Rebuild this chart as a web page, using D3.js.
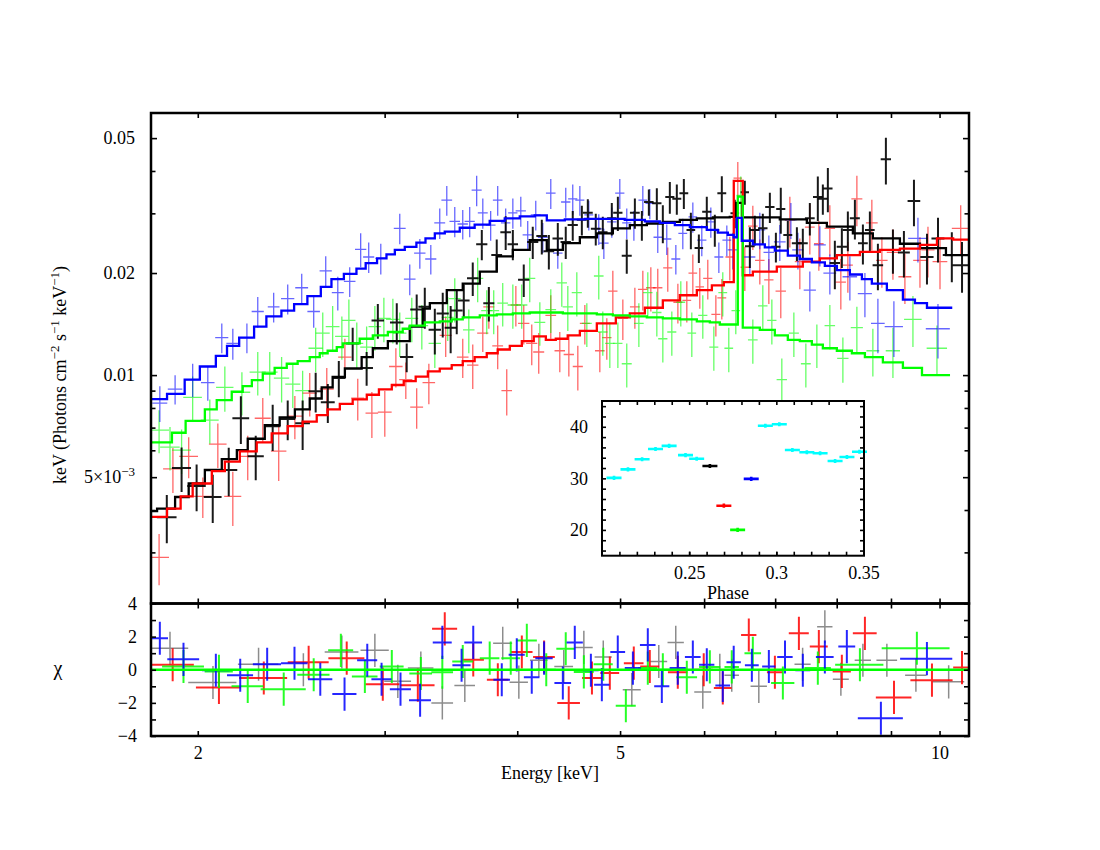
<!DOCTYPE html>
<html><head><meta charset="utf-8">
<script src="https://cdn.jsdelivr.net/npm/d3@7"></script>
<style>body{margin:0;background:#fff}</style>
</head><body><svg id="c" width="1100" height="850"></svg>
<script>
// ---------- tick values ----------
const xMajor = [2, 5, 10];
const xMinor = [3, 4, 6, 7, 8, 9];
const yMajor = [0.005, 0.01, 0.02, 0.05];
const yMinor = [0.003, 0.004, 0.006, 0.007, 0.008, 0.009, 0.03, 0.04];
const resTicks = [-4, -3, -2, -1, 0, 1, 2, 3, 4];
const resLabels = [-4, -2, 0, 2, 4];
const phaseTicks = [0.21,0.22,0.23,0.24,0.25,0.26,0.27,0.28,0.29,0.30,0.31,0.32,0.33,0.34,0.35];
const phaseLabels = [0.25, 0.3, 0.35];
const rateTicks = [16,18,20,22,24,26,28,30,32,34,36,38,40,42,44];
const rateLabels = [20, 30, 40];

// ---------- spectra: [E keV, flux, dE, dFlux] ----------
const blackData = [
[1.870,0.00381,0.040,0.00062],[1.931,0.00532,0.040,0.00080],[1.995,0.00471,0.040,0.00074],[2.066,0.00437,0.040,0.00071],
[2.139,0.00525,0.040,0.00086],[2.196,0.00746,0.040,0.00120],[2.268,0.00576,0.040,0.00086],[2.353,0.00707,0.040,0.00110],
[2.431,0.00742,0.040,0.00100],[2.511,0.00721,0.040,0.00120],[2.583,0.00896,0.040,0.00120],[2.652,0.00832,0.040,0.00110],
[2.716,0.00980,0.040,0.00120],[2.799,0.01240,0.040,0.00140],[2.885,0.01050,0.040,0.00120],[2.956,0.01450,0.040,0.00170],
[3.080,0.01430,0.045,0.00200],[3.147,0.01130,0.045,0.00110],[3.216,0.01560,0.045,0.00170],[3.273,0.01590,0.045,0.00220],
[3.345,0.01360,0.045,0.00210],[3.403,0.01520,0.045,0.00230],[3.462,0.01380,0.045,0.00220],[3.508,0.01550,0.045,0.00230],
[3.562,0.01660,0.045,0.00190],[3.632,0.01930,0.045,0.00220],[3.704,0.02430,0.045,0.00250],[3.761,0.01630,0.045,0.00190],
[3.826,0.02260,0.045,0.00250],[3.901,0.02640,0.045,0.00300],[3.962,0.02430,0.045,0.00250],[4.057,0.01910,0.050,0.00210],
[4.137,0.02470,0.050,0.00270],[4.219,0.02570,0.050,0.00300],[4.284,0.02320,0.050,0.00270],[4.368,0.02530,0.050,0.00280],
[4.444,0.02470,0.050,0.00270],[4.512,0.02770,0.050,0.00280],[4.602,0.02870,0.050,0.00290],[4.662,0.03010,0.050,0.00290],
[4.743,0.02700,0.050,0.00290],[4.816,0.02640,0.050,0.00290],[4.911,0.02900,0.050,0.00320],[4.976,0.03010,0.050,0.00350],
[5.073,0.02250,0.055,0.00260],[5.163,0.03010,0.055,0.00310],[5.242,0.02770,0.055,0.00280],[5.322,0.03240,0.055,0.00290],
[5.415,0.03210,0.055,0.00350],[5.486,0.02810,0.055,0.00360],[5.570,0.03350,0.055,0.00360],[5.655,0.03310,0.055,0.00340],
[5.742,0.03440,0.055,0.00350],[5.830,0.02680,0.055,0.00330],[5.932,0.02370,0.055,0.00230],[6.035,0.03030,0.060,0.00330],
[6.141,0.02680,0.060,0.00290],[6.235,0.03440,0.060,0.00420],[6.413,0.03000,0.060,0.00290],[6.554,0.03460,0.060,0.00280],
[6.626,0.02400,0.070,0.00330],[6.698,0.02680,0.070,0.00270],[6.815,0.02710,0.070,0.00280],[6.920,0.03130,0.070,0.00320],
[7.011,0.02390,0.070,0.00240],[7.086,0.03090,0.070,0.00480],[7.195,0.02590,0.070,0.00260],[7.338,0.02450,0.080,0.00280],
[7.433,0.02450,0.080,0.00250],[7.547,0.02900,0.080,0.00320],[7.679,0.03350,0.080,0.00500],[7.763,0.03310,0.080,0.00340],
[7.848,0.03550,0.080,0.00530],[7.968,0.02140,0.090,0.00350],[8.090,0.02390,0.090,0.00320],[8.196,0.02680,0.090,0.00360],
[8.322,0.02900,0.090,0.00390],[8.468,0.02450,0.090,0.00330],[8.597,0.02680,0.090,0.00360],[8.748,0.02110,0.100,0.00330],
[8.901,0.04330,0.100,0.00680],[9.038,0.02340,0.120,0.00350],[9.256,0.02300,0.120,0.00360],[9.460,0.03260,0.130,0.00510],
[9.731,0.02230,0.140,0.00380],[9.966,0.02530,0.140,0.00380],[10.27,0.02260,0.200,0.00380],[10.50,0.02110,0.220,0.00360]
];
const redData = [
[1.839,0.00290,0.040,0.00050],[1.895,0.00529,0.040,0.00080],[1.961,0.00576,0.040,0.00080],[2.022,0.00439,0.040,0.00060],
[2.089,0.00626,0.040,0.00094],[2.158,0.00439,0.040,0.00080],[2.229,0.00576,0.040,0.00086],[2.303,0.00746,0.040,0.00110],
[2.384,0.00597,0.040,0.00110],[2.469,0.00757,0.040,0.00110],[2.550,0.00885,0.040,0.00130],[2.646,0.00910,0.040,0.00140],
[2.752,0.01130,0.040,0.00150],[2.830,0.00855,0.040,0.00120],[2.918,0.00772,0.040,0.00120],[3.001,0.00778,0.045,0.00120],
[3.074,0.01060,0.045,0.00140],[3.141,0.00970,0.045,0.00120],[3.216,0.00805,0.045,0.00110],[3.302,0.00950,0.045,0.00130],
[3.425,0.01310,0.045,0.00180],[3.554,0.01130,0.045,0.00150],[3.632,0.01070,0.045,0.00160],[3.712,0.01330,0.045,0.00160],
[3.761,0.01590,0.045,0.00220],[3.834,0.01220,0.045,0.00180],[3.910,0.00900,0.045,0.00140],[3.988,0.01610,0.045,0.00220],
[4.057,0.01420,0.050,0.00190],[4.128,0.01240,0.050,0.00170],[4.191,0.01170,0.050,0.00160],[4.302,0.01500,0.050,0.00220],
[4.387,0.01180,0.050,0.00160],[4.474,0.01150,0.050,0.00160],[4.562,0.01060,0.050,0.00160],[4.632,0.01420,0.050,0.00190],
[4.785,0.01180,0.050,0.00160],[4.858,0.01290,0.050,0.00180],[4.922,0.01770,0.050,0.00260],[5.030,0.01470,0.055,0.00200],
[5.163,0.01590,0.055,0.00220],[5.253,0.01790,0.055,0.00240],[5.345,0.01810,0.055,0.00270],[5.426,0.01810,0.055,0.00250],
[5.545,0.02070,0.055,0.00310],[5.668,0.01640,0.055,0.00220],[5.779,0.01660,0.055,0.00230],[5.855,0.02000,0.055,0.00270],
[5.944,0.01820,0.055,0.00250],[6.048,0.01930,0.060,0.00260],[6.155,0.01510,0.060,0.00210],[6.235,0.01690,0.060,0.00230],
[6.344,0.02230,0.060,0.00330],[6.455,0.03810,0.060,0.00440],[6.554,0.02080,0.060,0.00310],[6.669,0.02750,0.070,0.00410],
[6.771,0.02180,0.070,0.00330],[6.905,0.01910,0.070,0.00290],[7.086,0.01770,0.080,0.00300],[7.227,0.02870,0.080,0.00490],
[7.385,0.02160,0.080,0.00370],[7.547,0.02730,0.080,0.00460],[7.696,0.02440,0.080,0.00410],[7.882,0.02710,0.090,0.00460],
[8.072,0.01880,0.090,0.00320],[8.196,0.02110,0.090,0.00360],[8.358,0.03310,0.100,0.00560],[8.634,0.02810,0.110,0.00480],
[8.824,0.02180,0.110,0.00370],[9.038,0.02300,0.120,0.00390],[9.276,0.01950,0.130,0.00330],[9.584,0.02180,0.140,0.00370],
[9.752,0.02340,0.140,0.00400],[10.01,0.02160,0.160,0.00370],[10.47,0.02710,0.200,0.00460]
];
const greenData = [
[1.839,0.00688,0.040,0.00100],[1.883,0.00613,0.040,0.00090],[1.931,0.00601,0.040,0.00090],[1.978,0.00860,0.040,0.00130],
[2.053,0.00737,0.040,0.00110],[2.121,0.00920,0.040,0.00140],[2.201,0.00890,0.040,0.00130],[2.278,0.01020,0.040,0.00150],
[2.338,0.01020,0.040,0.00150],[2.399,0.00980,0.040,0.00150],[2.458,0.00940,0.040,0.00140],[2.511,0.00900,0.040,0.00130],
[2.583,0.01200,0.040,0.00180],[2.623,0.01330,0.040,0.00200],[2.680,0.01390,0.040,0.00210],[2.734,0.01300,0.040,0.00190],
[2.776,0.01450,0.040,0.00220],[2.824,0.01240,0.040,0.00190],[2.885,0.01210,0.040,0.00180],[2.937,0.01390,0.040,0.00210],
[2.995,0.01470,0.045,0.00220],[3.054,0.01460,0.045,0.00220],[3.100,0.01330,0.045,0.00200],[3.182,0.01470,0.045,0.00220],
[3.252,0.01400,0.045,0.00210],[3.345,0.01240,0.045,0.00190],[3.440,0.01480,0.045,0.00220],[3.493,0.01680,0.045,0.00250],
[3.601,0.01360,0.045,0.00200],[3.671,0.01930,0.045,0.00290],[3.744,0.01550,0.045,0.00230],[3.801,0.01550,0.045,0.00230],
[3.876,0.01630,0.045,0.00240],[3.962,0.01610,0.045,0.00240],[4.039,0.01610,0.050,0.00240],[4.110,0.01930,0.050,0.00290],
[4.201,0.01430,0.050,0.00210],[4.302,0.01560,0.050,0.00230],[4.406,0.01870,0.050,0.00280],[4.464,0.01590,0.050,0.00240],
[4.552,0.01750,0.050,0.00260],[4.652,0.01420,0.050,0.00210],[4.774,0.01960,0.050,0.00290],[4.816,0.01340,0.050,0.00200],
[4.890,0.01240,0.050,0.00190],[4.976,0.01240,0.050,0.00190],[5.073,0.01080,0.055,0.00160],[5.208,0.01420,0.055,0.00210],
[5.310,0.01750,0.055,0.00260],[5.415,0.01530,0.055,0.00230],[5.486,0.01280,0.055,0.00190],[5.594,0.01340,0.055,0.00200],
[5.704,0.01640,0.055,0.00250],[5.842,0.01330,0.055,0.00200],[5.983,0.01500,0.060,0.00220],[6.128,0.01210,0.060,0.00180],
[6.248,0.01750,0.060,0.00260],[6.330,0.01200,0.060,0.00180],[6.427,0.01550,0.060,0.00230],[6.497,0.03390,0.060,0.00460],
[6.669,0.01270,0.070,0.00190],[6.815,0.01600,0.070,0.00240],[6.950,0.01450,0.070,0.00220],[7.102,0.00970,0.080,0.00150],
[7.290,0.01330,0.080,0.00200],[7.482,0.01080,0.080,0.00160],[7.663,0.01230,0.090,0.00180],[7.882,0.01400,0.090,0.00210],
[8.108,0.01120,0.100,0.00170],[8.358,0.01380,0.110,0.00210],[8.653,0.01180,0.120,0.00190],[9.038,0.01180,0.140,0.00200],
[9.439,0.01460,0.180,0.00250],[9.944,0.01200,0.220,0.00200]
];
const blueData = [
[1.842,0.00827,0.030,0.00100],[1.904,0.00909,0.030,0.00090],[1.978,0.00970,0.030,0.00110],[2.044,0.00950,0.030,0.00110],
[2.107,0.01290,0.030,0.00130],[2.158,0.01240,0.030,0.00130],[2.225,0.01290,0.030,0.00130],[2.278,0.01540,0.030,0.00160],
[2.358,0.01590,0.030,0.00160],[2.431,0.01680,0.035,0.00170],[2.506,0.01810,0.035,0.00180],[2.572,0.01540,0.035,0.00160],
[2.640,0.02030,0.035,0.00210],[2.710,0.01750,0.035,0.00200],[2.781,0.01890,0.035,0.00190],[2.848,0.02350,0.035,0.00270],
[2.898,0.02230,0.035,0.00230],[2.975,0.02210,0.035,0.00230],[3.100,0.02710,0.040,0.00280],[3.168,0.01920,0.040,0.00200],
[3.238,0.02290,0.040,0.00230],[3.316,0.02200,0.040,0.00220],[3.381,0.02810,0.040,0.00290],[3.433,0.03280,0.040,0.00330],
[3.493,0.02840,0.040,0.00290],[3.554,0.02790,0.040,0.00280],[3.608,0.02840,0.040,0.00290],[3.663,0.03510,0.040,0.00360],
[3.712,0.03010,0.040,0.00310],[3.776,0.02770,0.040,0.00280],[3.834,0.03280,0.040,0.00330],[3.901,0.02810,0.040,0.00290],
[3.962,0.03010,0.040,0.00310],[4.031,0.03050,0.045,0.00310],[4.092,0.02590,0.045,0.00260],[4.164,0.02970,0.045,0.00300],
[4.228,0.02550,0.045,0.00260],[4.302,0.03440,0.045,0.00350],[4.368,0.02290,0.045,0.00230],[4.444,0.03240,0.045,0.00330],
[4.512,0.03310,0.045,0.00340],[4.582,0.03280,0.045,0.00330],[4.672,0.02970,0.045,0.00300],[4.774,0.02700,0.050,0.00280],
[4.827,0.02450,0.050,0.00250],[4.911,0.02830,0.050,0.00290],[4.997,0.03440,0.050,0.00350],[5.073,0.02810,0.050,0.00290],
[5.152,0.02770,0.050,0.00280],[5.253,0.03280,0.050,0.00330],[5.333,0.03210,0.050,0.00330],[5.426,0.02550,0.050,0.00260],
[5.533,0.02520,0.055,0.00260],[5.643,0.02200,0.055,0.00220],[5.729,0.02620,0.055,0.00270],[5.855,0.02930,0.055,0.00300],
[5.970,0.02500,0.060,0.00260],[6.088,0.02830,0.060,0.00290],[6.195,0.02230,0.060,0.00230],[6.303,0.02500,0.060,0.00260],
[6.385,0.02340,0.070,0.00290],[6.626,0.02230,0.080,0.00270],[6.771,0.02680,0.080,0.00330],[6.905,0.02300,0.080,0.00280],
[7.071,0.02470,0.090,0.00300],[7.243,0.02870,0.090,0.00350],[7.354,0.02340,0.090,0.00290],[7.547,0.01780,0.100,0.00240],
[7.713,0.02420,0.100,0.00330],[7.882,0.02000,0.110,0.00270],[8.232,0.01950,0.130,0.00290],[8.505,0.01740,0.130,0.00260],
[8.748,0.01420,0.130,0.00260],[9.057,0.01390,0.180,0.00260],[9.542,0.02530,0.200,0.00380],[9.966,0.01370,0.260,0.00250]
];

// ---------- model step functions: [E lower edge, flux] (last pair closes the final step) ----------
const blackModel = [[1.807,0.00397],[1.831,0.00404],[1.904,0.00437],[1.961,0.00479],[2.031,0.00525],[2.107,0.00565],[2.177,0.00601],
[2.229,0.00649],[2.313,0.00712],[2.389,0.00750],[2.469,0.00792],[2.550,0.00853],[2.617,0.00920],[2.680,0.00988],[2.752,0.01046],
[2.854,0.0113],[2.924,0.0120],[3.021,0.0126],[3.168,0.0139],[3.259,0.0157],[3.309,0.0163],[3.433,0.0178],[3.554,0.0186],
[3.688,0.0202],[3.826,0.0224],[3.962,0.0234],[4.110,0.0250],[4.265,0.0234],[4.416,0.0245],[4.582,0.0255],[4.754,0.0262],
[4.922,0.0271],[5.107,0.0277],[5.299,0.0280],[5.486,0.0283],[5.692,0.0287],[5.906,0.0290],[6.115,0.0292],[6.344,0.0293],
[6.43,0.0322],[6.52,0.0292],[7.071,0.0288],[7.498,0.0281],[7.831,0.0274],[8.286,0.0262],[8.653,0.0253],[9.176,0.0244],
[9.584,0.0237],[10.14,0.0226],[10.66,0.0226]];
const redModel = [[1.807,0.00382],[1.871,0.00404],[1.927,0.00439],[1.978,0.00479],[2.062,0.00521],[2.121,0.00556],[2.191,0.00596],
[2.273,0.00633],[2.348,0.00673],[2.431,0.00707],[2.511,0.00729],[2.589,0.00762],[2.651,0.00792],[2.722,0.00822],[2.799,0.00848],
[2.886,0.00875],[2.963,0.00908],[3.047,0.00935],[3.127,0.00960],[3.209,0.00990],[3.295,0.01025],[3.381,0.01045],[3.470,0.0107],
[3.554,0.0110],[3.647,0.0113],[3.744,0.0116],[3.834,0.0119],[3.936,0.0122],[4.040,0.0126],[4.146,0.0130],[4.256,0.0127],
[4.349,0.0128],[4.463,0.0131],[4.582,0.0135],[4.754,0.0142],[4.954,0.0148],[5.107,0.0152],[5.276,0.0158],[5.486,0.0166],
[5.692,0.0172],[5.906,0.0178],[6.102,0.0184],[6.262,0.0188],[6.399,0.0374],[6.525,0.0197],[6.669,0.0202],[7.025,0.0209],
[7.433,0.0216],[7.713,0.0221],[8.003,0.0226],[8.413,0.0231],[8.786,0.0234],[9.176,0.0236],[9.584,0.0242],[9.944,0.0253],
[10.30,0.0251],[10.66,0.0251]];
const greenModel = [[1.807,0.00633],[1.891,0.00676],[1.948,0.00733],[2.031,0.00792],[2.084,0.00844],[2.153,0.00893],[2.205,0.00928],
[2.249,0.00967],[2.303,0.0101],[2.363,0.0105],[2.426,0.0108],[2.484,0.0110],[2.550,0.0113],[2.606,0.0116],[2.651,0.0118],
[2.704,0.0121],[2.740,0.0124],[2.842,0.0128],[2.924,0.0131],[3.021,0.0134],[3.120,0.0137],[3.168,0.0140],[3.273,0.0143],
[3.381,0.0144],[3.470,0.0146],[3.554,0.0148],[3.688,0.0150],[3.826,0.0151],[3.962,0.0152],[4.110,0.0153],[4.265,0.0153],
[4.416,0.0152],[4.582,0.0152],[4.754,0.0151],[4.922,0.0150],[5.107,0.0149],[5.299,0.0148],[5.486,0.0147],[5.692,0.0146],
[5.906,0.0144],[6.075,0.0143],[6.208,0.0141],[6.455,0.0336],[6.525,0.0138],[6.771,0.0136],[6.995,0.0131],[7.195,0.0127],
[7.385,0.0126],[7.580,0.0123],[7.763,0.0120],[8.003,0.0118],[8.268,0.0116],[8.505,0.0113],[8.843,0.0109],[9.236,0.0105],
[9.626,0.0100],[10.23,0.0100]];
const blueModel = [[1.807,0.0085],[1.871,0.0088],[1.944,0.0097],[2.009,0.0106],[2.080,0.0114],[2.131,0.0122],[2.188,0.0129],
[2.260,0.0139],[2.321,0.0149],[2.398,0.0155],[2.465,0.0162],[2.537,0.0171],[2.612,0.0182],[2.673,0.0192],[2.746,0.0199],
[2.822,0.0206],[2.879,0.0214],[2.951,0.0221],[3.012,0.0227],[3.067,0.0234],[3.134,0.0239],[3.214,0.0246],[3.278,0.0253],
[3.345,0.0262],[3.418,0.0265],[3.531,0.0272],[3.647,0.0278],[3.768,0.0285],[3.893,0.0290],[4.022,0.0294],[4.155,0.0296],
[4.265,0.0286],[4.435,0.0288],[4.632,0.0289],[4.837,0.0289],[5.051,0.0287],[5.276,0.0284],[5.450,0.0281],[5.631,0.0277],
[5.817,0.0273],[6.035,0.0268],[6.181,0.0263],[6.317,0.0259],[6.399,0.0255],[6.441,0.0291],[6.511,0.0249],[6.669,0.0243],
[6.845,0.0238],[6.995,0.0233],[7.195,0.0225],[7.385,0.0220],[7.580,0.0215],[7.797,0.0210],[8.003,0.0204],[8.232,0.0198],
[8.450,0.0192],[8.634,0.0186],[8.920,0.0178],[9.236,0.0167],[9.480,0.0163],[9.731,0.0158],[10.28,0.0158]];

// ---------- residuals: [E, dE, chi] (chi error = 1) ----------
const blackRes = [[1.883,0.076,1.3],[2.067,0.108,-0.77],[2.282,0.100,0.33],[2.515,0.110,0.0],[2.734,0.100,1.07],[2.937,0.090,1.17],
[3.087,0.090,-0.7],[3.245,0.090,0.1],[3.400,0.080,-2.0],[3.570,0.080,-0.95],[3.876,0.080,1.6],[4.014,0.080,-0.75],[4.192,0.080,0.57],
[4.425,0.090,0.2],[4.622,0.090,1.35],[4.821,0.090,0.77],[5.129,0.100,-1.2],[5.438,0.100,0.5],[5.642,0.100,1.65],[5.983,0.110,-1.35],
[6.208,0.110,-0.03],[6.371,0.100,-0.33],[6.756,0.120,-1.0],[7.430,0.130,0.33],[7.797,0.130,2.6],[8.073,0.140,-0.57],[8.468,0.150,0.57],
[8.920,0.200,0.57],[9.500,0.220,-0.33],[10.20,0.350,-0.73]];
const redRes = [[1.894,0.089,0.3],[2.094,0.102,-1.07],[2.308,0.120,-0.5],[2.544,0.113,0.45],[2.763,0.108,0.7],[2.988,0.110,-0.87],
[3.224,0.119,-0.93],[3.418,0.093,2.47],[3.636,0.085,0.6],[3.835,0.090,-0.6],[4.040,0.095,1.07],[4.240,0.100,0.77],[4.473,0.110,-2.0],
[4.704,0.100,-0.5],[4.890,0.100,-0.2],[5.151,0.110,0.4],[5.333,0.110,0.2],[5.667,0.120,-0.15],[5.995,0.120,0.0],[6.248,0.120,-1.1],
[6.611,0.110,2.1],[6.996,0.120,-0.15],[7.370,0.160,2.2],[7.696,0.150,1.4],[8.090,0.160,-0.1],[8.505,0.220,2.2],[9.059,0.350,-1.67],
[9.837,0.450,-0.63],[10.50,0.200,0.13]];
const greenRes = [[1.939,0.088,0.2],[2.094,0.064,-0.1],[2.229,0.077,-1.0],[2.410,0.118,-1.17],[2.572,0.090,-0.3],[2.728,0.074,1.17],
[2.874,0.080,-0.4],[3.047,0.079,0.2],[3.245,0.080,-0.23],[3.400,0.080,-0.15],[3.554,0.080,0.5],[3.768,0.080,0.7],[3.944,0.080,0.7],
[4.084,0.090,1.77],[4.260,0.090,0.0],[4.444,0.090,1.27],[4.622,0.100,-0.13],[4.821,0.100,0.33],[5.063,0.110,-2.17],[5.310,0.110,0.1],
[5.486,0.110,0.0],[5.779,0.130,-0.45],[6.075,0.140,0.17],[6.371,0.100,0.17],[6.669,0.120,1.0],[7.118,0.180,-0.8],[7.679,0.220,0.1],
[8.413,0.440,0.3],[9.520,0.700,1.3]];
const blueRes = [[1.842,0.033,1.9],[1.939,0.067,0.63],[2.080,0.062,-0.03],[2.193,0.062,-0.33],[2.325,0.071,0.33],[2.467,0.071,0.39],
[2.609,0.069,-0.57],[2.750,0.072,-1.47],[2.889,0.063,0.57],[2.980,0.065,-0.57],[3.105,0.071,-1.17],[3.240,0.077,-1.84],
[3.400,0.070,1.65],[3.545,0.070,0.27],[3.636,0.070,1.65],[3.868,0.070,-0.6],[3.996,0.070,0.9],[4.128,0.070,-0.45],[4.240,0.080,0.7],
[4.416,0.080,-0.8],[4.532,0.080,1.65],[4.693,0.080,-0.03],[4.806,0.080,-0.9],[4.975,0.080,1.07],[5.141,0.090,0.1],[5.310,0.090,1.5],
[5.474,0.090,-1.0],[5.667,0.100,0.1],[5.855,0.100,0.77],[6.035,0.100,0.3],[6.248,0.100,-0.95],[6.398,0.100,0.45],[6.655,0.100,0.27],
[6.905,0.100,0.2],[7.151,0.120,0.77],[7.433,0.120,-0.03],[7.797,0.150,0.77],[8.178,0.150,1.4],[8.805,0.430,-2.93],[9.730,0.550,0.67]];

// ---------- inset light curve ----------
const cyanPhase = [0.2069,0.2149,0.2230,0.2307,0.2385,0.2479,0.2543,0.2937,0.3017,0.3092,0.3175,0.3251,0.3337,0.3405,0.3477];
const cyanRate  = [30.1,31.75,33.7,35.7,36.3,34.5,33.8,40.2,40.5,35.5,35.05,34.86,33.36,34.14,35.17];
const specPhase = [0.2619, 0.2699, 0.2778, 0.2856];   // black, red, green, blue
const specRate  = [32.4, 24.7, 20.0, 29.9];
const phaseHalfWidth = 0.0043, rateErr = 0.4;

// ---------- drawing ----------
const FONT = '"Liberation Serif","Times New Roman",serif';
const svg = d3.select("#c");
const L = 151, R = 969, T = 113, MB = 603.5, RB = 736;
const x = d3.scaleLog().domain([1.807, 10.66]).range([L, R]);
const y = d3.scaleLog().domain([0.00212, 0.0593]).range([MB, T]);
const yr = d3.scaleLinear().domain([-4, 4]).range([RB, MB]);

const defs = svg.append("defs");
defs.append("clipPath").attr("id","cm").append("rect").attr("x",L).attr("y",T).attr("width",R-L).attr("height",MB-T);
defs.append("clipPath").attr("id","cr").append("rect").attr("x",L).attr("y",MB).attr("width",R-L).attr("height",RB-MB);

const cols = {black:"#000000", red:"#ff0000", green:"#00ff00", blue:"#0000ff"};

function crosses(g, data, color, w, op) {
  g.append("g").selectAll("path").data(data).join("path")
   .attr("d", d => `M${x(d[0]-d[2])},${y(d[1])}H${x(d[0]+d[2])}M${x(d[0])},${y(Math.max(d[1]-d[3],1e-4))}V${y(d[1]+d[3])}`)
   .attr("stroke", color).attr("stroke-width", w).attr("stroke-opacity", op).attr("fill","none");
}
const main = svg.append("g").attr("clip-path","url(#cm)");
crosses(main, redData, cols.red, 1.3, 0.6);
crosses(main, greenData, cols.green, 1.3, 0.6);
crosses(main, blueData, cols.blue, 1.3, 0.6);
crosses(main, blackData, cols.black, 2.0, 0.9);

const stepLine = d3.line().x(d => x(d[0])).y(d => y(d[1])).curve(d3.curveStepAfter);
[[blackModel,cols.black],[redModel,cols.red],[greenModel,cols.green],[blueModel,cols.blue]].forEach(([m,c]) => {
  main.append("path").attr("d", stepLine(m)).attr("fill","none").attr("stroke", c).attr("stroke-width", 2.3);
});

// residuals
const res = svg.append("g").attr("clip-path","url(#cr)");
function rcross(data, color, w, op) {
  res.append("g").selectAll("path").data(data).join("path")
   .attr("d", d => `M${x(d[0]-d[1])},${yr(d[2])}H${x(d[0]+d[1])}M${x(d[0])},${yr(d[2]-1)}V${yr(d[2]+1)}`)
   .attr("stroke", color).attr("stroke-width", w).attr("stroke-opacity", op).attr("fill","none");
}
rcross(blackRes, "#666", 1.5, 0.75);
rcross(redRes, cols.red, 2, 0.85);
rcross(greenRes, cols.green, 2, 0.85);
rcross(blueRes, cols.blue, 2, 0.85);
res.append("line").attr("x1",L).attr("x2",R).attr("y1",yr(0)).attr("y2",yr(0)).attr("stroke",cols.green).attr("stroke-width",2.5);

// axes helper
function axis(gen, vals, size, fmt, pad, tx, ty) {
  const g = svg.append("g").attr("transform",`translate(${tx},${ty})`)
    .call(gen.tickValues(vals).tickSize(size).tickSizeOuter(0).tickPadding(pad).tickFormat(fmt || (() => "")));
  g.select(".domain").remove();
  g.attr("font-family", FONT).attr("font-size", 18);
  g.selectAll("line").attr("stroke","#000").attr("stroke-width",1.6);
  g.selectAll("text").attr("fill","#000");
  return g;
}
const mainFmt = d => d === 0.005 ? "5×10" : String(d);
const gy = axis(d3.axisLeft(y), yMajor, -6, mainFmt, 16, L, 0);
gy.selectAll(".tick text").filter(d => d === 0.005).append("tspan").attr("dy", -7).attr("font-size", 13).text("−3");
axis(d3.axisLeft(y), yMinor, -4.5, null, 0, L, 0);
axis(d3.axisRight(y), yMajor, -6, null, 0, R, 0);
axis(d3.axisRight(y), yMinor, -4.5, null, 0, R, 0);
axis(d3.axisTop(x), xMajor.concat(xMinor), -5, null, 0, 0, T);
axis(d3.axisBottom(x), xMajor.concat(xMinor), -5, null, 0, 0, MB);
// residual axes
axis(d3.axisTop(x), xMajor.concat(xMinor), -5, null, 0, 0, MB);
axis(d3.axisBottom(x), xMajor, -5, d => String(d), 10, 0, RB);
axis(d3.axisBottom(x), xMinor, -5, null, 0, 0, RB);
axis(d3.axisLeft(yr), resTicks, -5, d => resLabels.includes(d) ? d3.format("")(d) : "", 14, L, 0);
axis(d3.axisRight(yr), resTicks, -5, null, 0, R, 0);

// frames
svg.append("rect").attr("x",L).attr("y",T).attr("width",R-L).attr("height",MB-T).attr("fill","none").attr("stroke","#000").attr("stroke-width",2.5);
svg.append("rect").attr("x",L).attr("y",MB).attr("width",R-L).attr("height",RB-MB).attr("fill","none").attr("stroke","#000").attr("stroke-width",2.5);

// axis titles
const yt = svg.append("text").attr("transform","translate(66,375) rotate(-90)").attr("text-anchor","middle")
  .attr("font-family",FONT).attr("font-size",18).attr("fill","#000");
yt.append("tspan").text("keV (Photons cm");
yt.append("tspan").attr("dy",-7).attr("font-size",13).text("−2");
yt.append("tspan").attr("dy",7).text(" s");
yt.append("tspan").attr("dy",-7).attr("font-size",13).text("−1");
yt.append("tspan").attr("dy",7).text(" keV");
yt.append("tspan").attr("dy",-7).attr("font-size",13).text("−1");
yt.append("tspan").attr("dy",7).text(")");
svg.append("text").attr("x",58).attr("y",675).attr("text-anchor","middle").attr("font-family",FONT).attr("font-size",20).text("χ");
svg.append("text").attr("x",550).attr("y",779).attr("text-anchor","middle").attr("font-family",FONT).attr("font-size",18).text("Energy [keV]");

// ---------- inset ----------
const IL = 602, IR = 864, IT = 401, IB = 555.7;
const xi = d3.scaleLinear().domain([0.2, 0.35]).range([IL, 863.5]);
const yi = d3.scaleLinear().domain([15, 45]).range([IB, IT]);
svg.append("rect").attr("x",IL).attr("y",IT).attr("width",IR-IL).attr("height",IB-IT).attr("fill","#fff");
function icross(ph, rt, color) {
  svg.append("g").selectAll("path").data(d3.zip(ph, rt)).join("path")
    .attr("d", d => `M${xi(d[0]-phaseHalfWidth)},${yi(d[1])}H${xi(d[0]+phaseHalfWidth)}M${xi(d[0])},${yi(d[1]-rateErr)}V${yi(d[1]+rateErr)}`)
    .attr("stroke", color).attr("stroke-width", 2.6).attr("fill","none");
}
icross(cyanPhase, cyanRate, "#00ffff");
const specCols = [cols.black, cols.red, cols.green, cols.blue];
specPhase.forEach((p, i) => icross([p], [specRate[i]], specCols[i]));
axis(d3.axisBottom(xi), phaseTicks, -4, null, 0, 0, IB);
axis(d3.axisBottom(xi), phaseLabels, -4, d => String(d), 11, 0, IB);
axis(d3.axisTop(xi), phaseTicks, -4, null, 0, 0, IT);
axis(d3.axisLeft(yi), rateTicks, -4, d => rateLabels.includes(d) ? String(d) : "", 14, IL, 0);
axis(d3.axisRight(yi), rateTicks, -4, null, 0, IR, 0);
svg.append("rect").attr("x",IL).attr("y",IT).attr("width",IR-IL).attr("height",IB-IT).attr("fill","none").attr("stroke","#000").attr("stroke-width",2);
svg.append("text").attr("x",728).attr("y",599).attr("text-anchor","middle").attr("font-family",FONT).attr("font-size",18).text("Phase");
</script></body></html>
